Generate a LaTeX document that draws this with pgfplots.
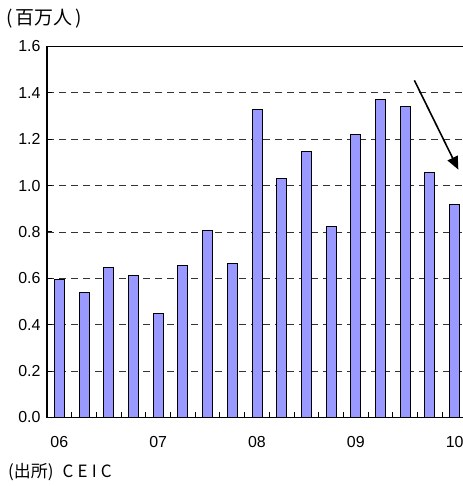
\documentclass[border=0pt]{standalone}
\usepackage{pgfplots}
\pgfplotsset{compat=1.18}
\usepackage{fontspec}
\setmainfont{Liberation Sans}
\newfontfamily\jp{Noto Sans CJK JP}
\newfontfamily\jpls[LetterSpace=25]{Noto Sans CJK JP}
\usetikzlibrary{arrows.meta}
\definecolor{barblue}{RGB}{153,153,255}

\begin{document}
\begin{tikzpicture}
\begin{axis}[
  at={(0,0)}, anchor=south west,
  scale only axis,
  width=420bp, height=371bp,
  xmin=-0.5, xmax=16.5,
  ymin=0, ymax=1.6,
  ytick={0,0.2,...,1.6},
  yticklabel style={/pgf/number format/fixed, /pgf/number format/fixed zerofill,
    /pgf/number format/precision=1, xshift=-8bp},
  xtick={0.5,1.5,...,15.5},
  xticklabels={},
  extra x ticks={0,4,8,12,16},
  extra x tick labels={06,07,08,09,10},
  extra x tick style={major tick length=0pt, xticklabel style={yshift=-15bp}},
  major tick length=-5bp,
  tick align=outside,
  xtick pos=left, ytick pos=left,
  every tick/.style={black, line width=1bp},
  ymajorgrids,
  major grid style={black!80, line width=0.8bp, dash pattern=on 7bp off 5bp},
  axis line style={black, line width=1.2bp},
  tick label style={font=\fontsize{16}{19}\selectfont},
  /pgf/number format/assume math mode=true,
  ybar, bar width=10bp,
]
\addplot[fill=barblue, draw=black, line width=0.9bp] coordinates {
(0,0.594) (1,0.541) (2,0.647) (3,0.613) (4,0.450) (5,0.654) (6,0.805) (7,0.666)
(8,1.328) (9,1.029) (10,1.148) (11,0.824) (12,1.220) (13,1.371) (14,1.341)
(15,1.057) (16,0.919)
};
\draw[-{Triangle[length=13bp,width=11bp]}, line width=1.6bp, black]
  (axis cs:14.37,1.454) -- (axis cs:16.15,1.069);
\end{axis}
\node[anchor=west, inner sep=0pt, font=\jp\fontsize{19}{22}\selectfont] at (-41bp,398.5bp) {(\,百万人\,)};
\node[anchor=west, inner sep=0pt, font=\jp\fontsize{17}{20}\selectfont] at (-39bp,-54.5bp) {(出所)\hspace{9bp}\jpls CEIC};
\pgfresetboundingbox
\path[use as bounding box] (-47bp,-68.5bp) rectangle (416bp,417.5bp);
\end{tikzpicture}
\end{document}
